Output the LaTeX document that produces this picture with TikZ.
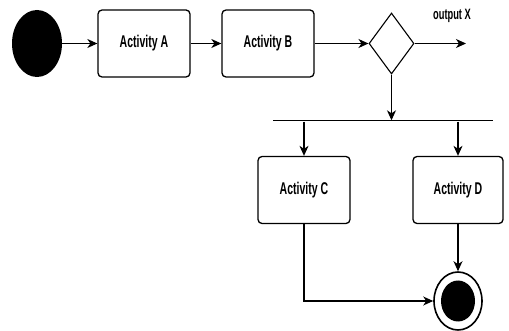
\documentclass[tikz,border=0pt]{standalone}
\usepackage{fontspec}
\setmainfont{Liberation Sans}[FakeStretch=0.62]
\usetikzlibrary{shapes.geometric,arrows.meta}
\begin{document}
\begin{tikzpicture}[x=1pt,y=-1pt,
  flow/.style={line width=1.1pt,-{Stealth[length=10pt,width=9pt,inset=3pt]}},
  activity/.style={draw,line width=1.3pt,rounded corners=4pt,minimum width=92pt,minimum height=67pt,inner sep=0pt,font=\bfseries\fontsize{17}{19}\selectfont},
  every node/.style={inner sep=0pt}]
\useasboundingbox (0,0) rectangle (509,331);
% initial node
\node (start) [ellipse,fill=black,minimum width=50pt,minimum height=67pt] at (37,43.5) {};
% activities
\node (A) [activity] at (144,43.5) {Activity A};
\node (B) [activity] at (268,43.5) {Activity B};
% decision
\node (dec) [diamond,draw,line width=1.1pt,minimum width=45pt,minimum height=61pt] at (391.5,43.5) {};
\coordinate (outX) at (466,43.5);
\node (lbl) [font=\bfseries\fontsize{15}{17}\selectfont] at (452,16) {output X};
% fork bar
\node (bar) [fill=black,minimum width=220pt,minimum height=1pt] at (383,121) {};
\node (C) [activity] at (304,190) {Activity C};
\node (D) [activity,minimum width=90pt] at (458,190) {Activity D};
% final node
\node (final) [ellipse,draw,line width=1.6pt,minimum width=48pt,minimum height=58pt] at (458,301) {};
\node (finalin) [ellipse,fill=black,minimum width=34pt,minimum height=41pt] at (final) {};
% connectors
\draw[flow] (start) -- (A);
\draw[flow] (A) -- (B);
\draw[flow] (B) -- (dec);
\draw[flow] (dec) -- (outX);
\draw[flow] (dec) -- (dec |- bar.north);
\draw[flow] (bar.south -| C) -- (C);
\draw[flow] (bar.south -| D) -- (D);
\draw[flow] (D) -- (final);
\draw[flow] (C.south) |- (final.west);
\end{tikzpicture}
\end{document}
